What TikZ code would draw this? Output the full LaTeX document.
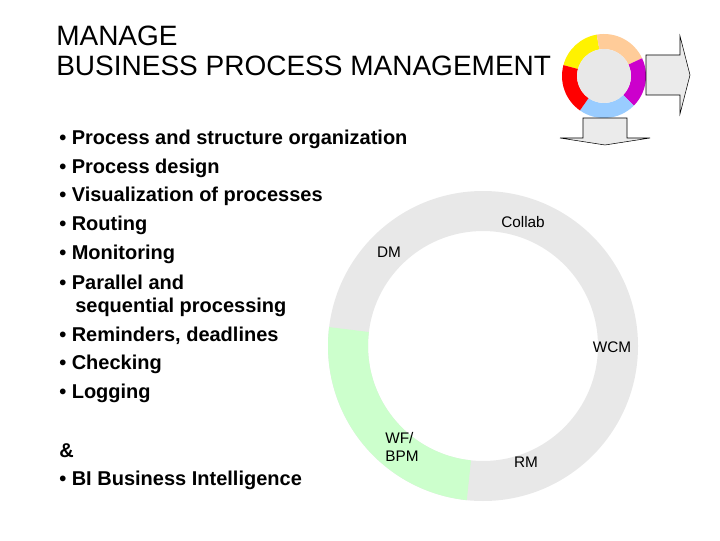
\documentclass[tikz,border=0pt]{standalone}
\usepackage{fontspec}
\setmainfont{Liberation Sans}
\usetikzlibrary{calc}
\definecolor{sky}{HTML}{99CCFF}
\definecolor{mag}{HTML}{CC00CC}
\definecolor{peach}{HTML}{FFCC99}
\begin{document}
\begin{tikzpicture}[x=0.75pt,y=0.75pt,
  bl/.style={anchor=west,font=\bfseries\fontsize{15}{16}\selectfont,inner sep=0},
  rl/.style={font=\fontsize{11.5}{13}\selectfont,inner sep=0,align=left},
  arr/.style={fill=black!8,draw=black,line width=0.4pt}]
\useasboundingbox (0,0) rectangle (720,540);
\fill[white] (0,0) rectangle (720,540);
% title
\node[anchor=west,inner sep=0,font=\fontsize{21}{24}\selectfont] (t1) at (56,504) {MANAGE};
\node[anchor=west,inner sep=0,font=\fontsize{21}{24}\selectfont] (t2) at (56,474) {BUSINESS PROCESS MANAGEMENT};
% bullets
\foreach \i/\y/\t in {1/139/Process and structure organization,2/168/Process design,3/196/Visualization of processes,4/225/Routing,5/254/Monitoring,6/282/Parallel and,8/336/{Reminders, deadlines},9/364/Checking,10/393/Logging,11/480/BI Business Intelligence}{
  \node[bl] (b\i) at (59,540-\y) {\textbullet\ \t};}
\node[bl] (b7) at (75,540-307) {sequential processing};
\node[bl] (amp) at (59,540-451) {\&};
% ring
\coordinate (c) at (483,194);
\fill[black!9,even odd rule] (c) circle (155) (c) circle (115);
\fill[green!20] ($(c)+(173:155)$) arc (173:264:155) -- ($(c)+(264:115)$) arc (264:173:115) -- cycle;
\node[rl] (collab) at (523,540-222) {Collab};
\node[rl] (dm) at (389,540-252) {DM};
\node[rl] (wcm) at (612,540-347) {WCM};
\node[rl] (wf) at (402,540-447) {WF/\\BPM};
\node[rl] (rm) at (526,540-462) {RM};
% icon
\coordinate (ic) at (604,464);
\foreach \a/\b/\col in {100/165/yellow,25/100/peach,-45/25/mag,-125/-45/sky,165/235/red}{
  \fill[\col] ($(ic)+(\a:42)$) arc (\a:\b:42) -- ($(ic)+(\b:27)$) arc (\b:\a:27) -- cycle;}
\fill[black!9] (ic) circle (27);
\draw[arr] (646,485) -- (680,485) -- (680,504) -- (690,465) -- (680,426) -- (680,445) -- (646,445) -- cycle;
\draw[arr] (583,422) -- (627,422) -- (627,402) -- (650,402) -- (605,395) -- (560,402) -- (583,402) -- cycle;
\end{tikzpicture}
\end{document}
